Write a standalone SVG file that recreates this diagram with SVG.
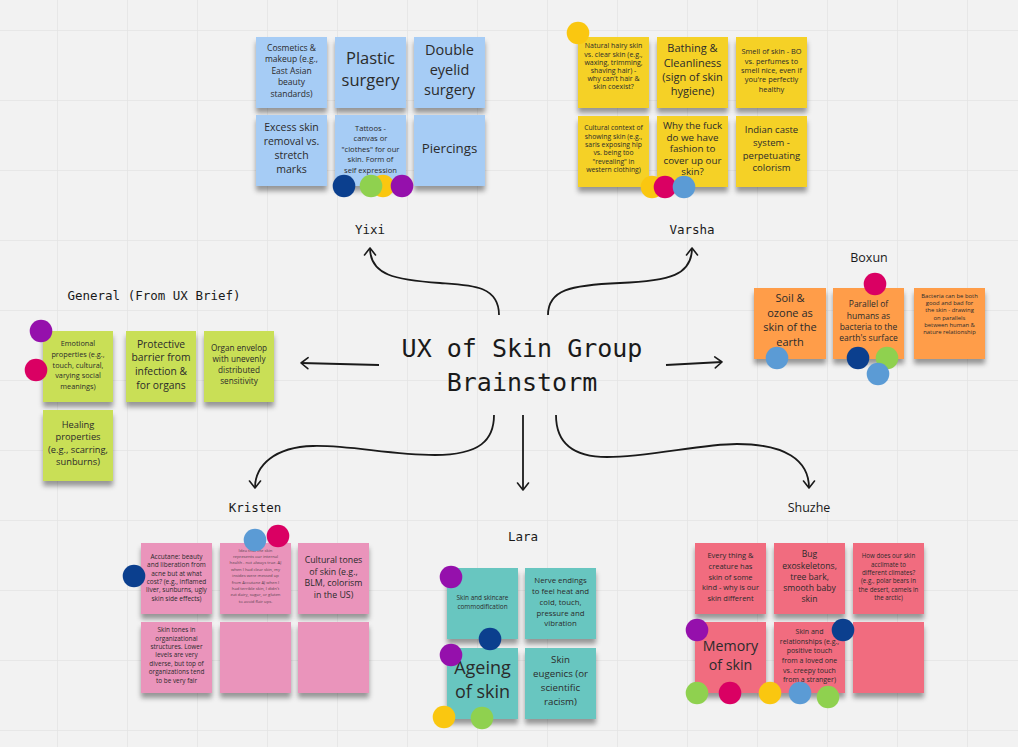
<svg xmlns="http://www.w3.org/2000/svg" width="1018" height="747" viewBox="0 0 1018 747">
<defs>
<pattern id="grid" x="57" y="30" width="70" height="70" patternUnits="userSpaceOnUse"><path d="M0,0 H70 M0,0 V70" fill="none" stroke="#e4e4e4" stroke-width="1.5"/></pattern>
<filter id="sh" x="-20%" y="-20%" width="140%" height="150%"><feDropShadow dx="0" dy="5" stdDeviation="2.5" flood-color="#000" flood-opacity="0.38"/></filter>
<marker id="arr" viewBox="-9 -7 11 14" refX="0" refY="0" markerWidth="11" markerHeight="14" markerUnits="userSpaceOnUse" orient="auto"><path d="M-7,-5.5 L0,0 L-7,5.5" fill="none" stroke="#1a1a1a" stroke-width="1.6" stroke-linecap="round" stroke-linejoin="round"/></marker>
</defs>
<style>
.note text{font-family:"Open Sans","Noto Sans",sans-serif;fill:#2b2b2b;text-anchor:middle}
.note rect{filter:url(#sh)}
.blue{fill:#a6ccf5}.yellow{fill:#f5d128}.orange{fill:#ff9d48}.lime{fill:#c9df56}.pink{fill:#ea94bb}.teal{fill:#67c6c0}.coral{fill:#f16c7f}
.lbl{font-family:"DejaVu Sans Mono","Liberation Mono",monospace;font-size:12.5px;fill:#1a1a1a;text-anchor:middle}
.lbls{font-family:"Open Sans","Noto Sans",sans-serif;font-size:12.5px;fill:#1a1a1a;text-anchor:middle}
.title{font-family:"DejaVu Sans Mono","Liberation Mono",monospace;font-size:25px;fill:#1a1a1a;text-anchor:middle}
.conn path{fill:none;stroke:#1a1a1a;stroke-width:1.8;marker-end:url(#arr)}
.pu{fill:#9510ac}.mg{fill:#da0063}.db{fill:#0b3f8e}.lb{fill:#5b9bd5}.gr{fill:#8fd14f}.ye{fill:#fac710}
</style>
<rect width="1018" height="747" fill="#f2f2f2"/>
<rect width="1018" height="747" fill="url(#grid)"/>

<g id="connectors" class="conn">
<path d="M499,315 C499,285 470,285 440,283 C395,280 370,275 370,248"/>
<path d="M548,315 C548,290 570,285 620,283 C670,281 692,275 692,248"/>
<path d="M379,365 L301,363"/>
<path d="M666,365 L722,362"/>
<path d="M494,415 C494,440 480,455 435,455 C390,455 350,445 313,446 C275,447 255,465 255,488"/>
<path d="M523,415 L523,490"/>
<path d="M556,415 C556,440 570,457 607,457 C650,457 700,444 737,444 C785,444 809,460 809,488"/>
</g>

<g id="title"><text class="title"><tspan x="522" y="357">UX of Skin Group</tspan><tspan x="522" y="391">Brainstorm</tspan></text></g>

<g id="labels">
<text class="lbl" x="370" y="234">Yixi</text>
<text class="lbl" x="692" y="234">Varsha</text>
<text class="lbls" x="869" y="262">Boxun</text>
<text class="lbl" x="154" y="300">General (From UX Brief)</text>
<text class="lbl" x="255" y="512">Kristen</text>
<text class="lbl" x="523" y="541">Lara</text>
<text class="lbls" x="809" y="512">Shuzhe</text>
</g>

<!-- Yixi -->
<g id="yixi-1" class="note"><rect class="blue" x="256" y="37" width="71" height="71"/><text font-size="8.5"><tspan x="291.5" y="50.5">Cosmetics &amp;</tspan><tspan x="291.5" y="62">makeup  (e.g.,</tspan><tspan x="291.5" y="73.5">East Asian</tspan><tspan x="291.5" y="85">beauty</tspan><tspan x="291.5" y="96.5">standards)</tspan></text></g>
<g id="yixi-2" class="note"><rect class="blue" x="335" y="37" width="71" height="71"/><text font-size="16.5"><tspan x="370.5" y="64">Plastic</tspan><tspan x="370.5" y="86">surgery</tspan></text></g>
<g id="yixi-3" class="note"><rect class="blue" x="414" y="37" width="71" height="71"/><text font-size="14.5"><tspan x="449.5" y="54.5">Double</tspan><tspan x="449.5" y="74.5">eyelid</tspan><tspan x="449.5" y="94.5">surgery</tspan></text></g>
<g id="yixi-4" class="note"><rect class="blue" x="256" y="115" width="71" height="71"/><text font-size="10.5"><tspan x="291.5" y="130.5">Excess skin</tspan><tspan x="291.5" y="144.8">removal vs.</tspan><tspan x="291.5" y="159.1">stretch</tspan><tspan x="291.5" y="173.4">marks</tspan></text></g>
<g id="yixi-5" class="note"><rect class="blue" x="335" y="115" width="71" height="71"/><text font-size="7.6"><tspan x="370.5" y="130.7">Tattoos  -</tspan><tspan x="370.5" y="141.2">canvas or</tspan><tspan x="370.5" y="151.7">"clothes" for our</tspan><tspan x="370.5" y="162.2">skin. Form of</tspan><tspan x="370.5" y="172.7">self expression</tspan></text></g>
<g id="yixi-6" class="note"><rect class="blue" x="414" y="115" width="71" height="71"/><text font-size="13.3"><tspan x="449.5" y="152.5">Piercings</tspan></text></g>
<g id="yixi-dots"><circle class="ye" cx="383" cy="186" r="11.3"/><circle class="pu" cx="402" cy="186" r="11.3"/><circle class="db" cx="344" cy="186" r="11.3"/><circle class="gr" cx="371" cy="186" r="11.3"/></g>

<!-- Varsha -->
<g id="varsha-1" class="note"><rect class="yellow" x="578" y="37" width="71" height="71"/><text font-size="7"><tspan x="613.5" y="48.4">Natural hairy skin</tspan><tspan x="613.5" y="56.5">vs. clear skin (e.g.,</tspan><tspan x="613.5" y="64.6">waxing, trimming,</tspan><tspan x="613.5" y="72.7">shaving hair) -</tspan><tspan x="613.5" y="80.8">why can't hair &amp;</tspan><tspan x="613.5" y="88.9">skin coexist?</tspan></text></g>
<g id="varsha-2" class="note"><rect class="yellow" x="657" y="37" width="71" height="71"/><text font-size="11"><tspan x="692.5" y="52.2">Bathing &amp;</tspan><tspan x="692.5" y="66.6">Cleanliness</tspan><tspan x="692.5" y="81">(sign of skin</tspan><tspan x="692.5" y="95.4">hygiene)</tspan></text></g>
<g id="varsha-3" class="note"><rect class="yellow" x="736" y="37" width="71" height="71"/><text font-size="7.4"><tspan x="771.5" y="54.3">Smell of skin - BO</tspan><tspan x="771.5" y="63.6">vs. perfumes to</tspan><tspan x="771.5" y="72.9">smell nice, even if</tspan><tspan x="771.5" y="82.2">you're perfectly</tspan><tspan x="771.5" y="91.5">healthy</tspan></text></g>
<g id="varsha-4" class="note"><rect class="yellow" x="578" y="116" width="71" height="71"/><text font-size="6.8"><tspan x="613.5" y="130.1">Cultural context of</tspan><tspan x="613.5" y="138.5">showing skin (e.g.,</tspan><tspan x="613.5" y="146.9">saris exposing hip</tspan><tspan x="613.5" y="155.3">vs. being too</tspan><tspan x="613.5" y="163.7">"revealing" in</tspan><tspan x="613.5" y="172.1">western clothing)</tspan></text></g>
<g id="varsha-5" class="note"><rect class="yellow" x="657" y="116" width="71" height="71"/><text font-size="9.8"><tspan x="692.5" y="129.4">Why the fuck</tspan><tspan x="692.5" y="140.8">do we have</tspan><tspan x="692.5" y="152.2">fashion to</tspan><tspan x="692.5" y="163.6">cover up our</tspan><tspan x="692.5" y="175">skin?</tspan></text></g>
<g id="varsha-6" class="note"><rect class="yellow" x="736" y="116" width="71" height="71"/><text font-size="9.5"><tspan x="771.5" y="133.3">Indian caste</tspan><tspan x="771.5" y="146">system -</tspan><tspan x="771.5" y="158.5">perpetuating</tspan><tspan x="771.5" y="171">colorism</tspan></text></g>
<g id="varsha-dots"><circle class="ye" cx="578" cy="33" r="11.3"/><circle class="ye" cx="652" cy="187" r="11.3"/><circle class="mg" cx="665" cy="187" r="11.3"/><circle class="lb" cx="684" cy="187" r="11.3"/></g>

<!-- Boxun -->
<g id="boxun-1" class="note"><rect class="orange" x="754" y="288" width="72" height="71"/><text font-size="11"><tspan x="790" y="302">Soil &amp;</tspan><tspan x="790" y="316.5">ozone as</tspan><tspan x="790" y="331">skin of the</tspan><tspan x="790" y="345.5">earth</tspan></text></g>
<g id="boxun-2" class="note"><rect class="orange" x="833" y="288" width="71" height="71"/><text font-size="8.5"><tspan x="868.5" y="307.3">Parallel of</tspan><tspan x="868.5" y="318.6">humans as</tspan><tspan x="868.5" y="329.9">bacteria to the</tspan><tspan x="868.5" y="341.2">earth's surface</tspan></text></g>
<g id="boxun-3" class="note"><rect class="orange" x="914" y="288" width="71" height="71"/><text font-size="5.9"><tspan x="949.5" y="298">Bacteria can be both</tspan><tspan x="949.5" y="305.2">good and bad for</tspan><tspan x="949.5" y="312.4">the skin - drawing</tspan><tspan x="949.5" y="319.6">on parallels</tspan><tspan x="949.5" y="326.8">between human &amp;</tspan><tspan x="949.5" y="334">nature relationship</tspan></text></g>
<g id="boxun-dots"><circle class="mg" cx="875" cy="284" r="11.3"/><circle class="lb" cx="777" cy="358" r="11.3"/><circle class="db" cx="858" cy="358" r="11.3"/><circle class="gr" cx="887" cy="358" r="11.3"/><circle class="lb" cx="878" cy="374" r="11.3"/></g>

<!-- General -->
<g id="general-1" class="note"><rect class="lime" x="43" y="331" width="70" height="71"/><text font-size="7.3"><tspan x="78" y="346">Emotional</tspan><tspan x="78" y="356.8">properties (e.g.,</tspan><tspan x="78" y="367.6">touch, cultural,</tspan><tspan x="78" y="378.4">varying social</tspan><tspan x="78" y="389.2">meanings)</tspan></text></g>
<g id="general-2" class="note"><rect class="lime" x="126" y="331" width="70" height="71"/><text font-size="10.3"><tspan x="161" y="347.6">Protective</tspan><tspan x="161" y="361.3">barrier from</tspan><tspan x="161" y="375">infection &amp;</tspan><tspan x="161" y="388.7">for organs</tspan></text></g>
<g id="general-3" class="note"><rect class="lime" x="204" y="331" width="70" height="71"/><text font-size="8.2"><tspan x="239" y="350.5">Organ envelop</tspan><tspan x="239" y="361.5">with unevenly</tspan><tspan x="239" y="372.5">distributed</tspan><tspan x="239" y="383.5">sensitivity</tspan></text></g>
<g id="general-4" class="note"><rect class="lime" x="43" y="410" width="70" height="71"/><text font-size="9.3"><tspan x="78" y="428.2">Healing</tspan><tspan x="78" y="440.4">properties</tspan><tspan x="78" y="452.6">(e.g., scarring,</tspan><tspan x="78" y="464.8">sunburns)</tspan></text></g>
<g id="general-dots"><circle class="pu" cx="41" cy="331" r="11.3"/><circle class="mg" cx="36" cy="370" r="11.3"/></g>

<!-- Kristen -->
<g id="kristen-1" class="note"><rect class="pink" x="141" y="543" width="71" height="71"/><text font-size="6.5"><tspan x="176.5" y="559">Accutane: beauty</tspan><tspan x="176.5" y="567.3">and liberation from</tspan><tspan x="176.5" y="575.6">acne but at what</tspan><tspan x="176.5" y="583.9">cost? (e.g., inflamed</tspan><tspan x="176.5" y="592.2">liver, sunburns, ugly</tspan><tspan x="176.5" y="600.5">skin side effects)</tspan></text></g>
<g id="kristen-2" class="note"><rect class="pink" x="220" y="543" width="71" height="71"/><text font-size="4.2" style="fill:#5a4450"><tspan x="255.5" y="551.5">Idea that the skin</tspan><tspan x="255.5" y="557.9">represents our internal</tspan><tspan x="255.5" y="564.3">health - not always true. AJ</tspan><tspan x="255.5" y="570.7">when I had clear skin, my</tspan><tspan x="255.5" y="577.1">insides were messed up</tspan><tspan x="255.5" y="583.5">from Accutane AJ when I</tspan><tspan x="255.5" y="589.9">had terrible skin, I didn't</tspan><tspan x="255.5" y="596.3">eat dairy, sugar, or gluten</tspan><tspan x="255.5" y="602.7">to avoid flair ups.</tspan></text></g>
<g id="kristen-3" class="note"><rect class="pink" x="298" y="543" width="71" height="71"/><text font-size="8.8"><tspan x="333.5" y="563">Cultural tones</tspan><tspan x="333.5" y="574.5">of skin (e.g.,</tspan><tspan x="333.5" y="586">BLM, colorism</tspan><tspan x="333.5" y="597.5">in the US)</tspan></text></g>
<g id="kristen-4" class="note"><rect class="pink" x="141" y="622" width="71" height="71"/><text font-size="6.4"><tspan x="176.5" y="632.2">Skin tones in</tspan><tspan x="176.5" y="640.6">organizational</tspan><tspan x="176.5" y="649">structures. Lower</tspan><tspan x="176.5" y="657.4">levels are very</tspan><tspan x="176.5" y="665.8">diverse, but top of</tspan><tspan x="176.5" y="674.2">organizations tend</tspan><tspan x="176.5" y="682.6">to be very fair</tspan></text></g>
<g id="kristen-5" class="note"><rect class="pink" x="220" y="622" width="71" height="71"/></g>
<g id="kristen-6" class="note"><rect class="pink" x="298" y="622" width="71" height="71"/></g>
<g id="kristen-dots"><circle class="db" cx="134" cy="576" r="11.3"/><circle class="lb" cx="255" cy="540" r="11.3"/><circle class="mg" cx="278" cy="536" r="11.3"/></g>

<!-- Lara -->
<g id="lara-1" class="note"><rect class="teal" x="447" y="568" width="71" height="71"/><text font-size="6.4"><tspan x="482.5" y="599.5">Skin and skincare</tspan><tspan x="482.5" y="608.9">commodification</tspan></text></g>
<g id="lara-2" class="note"><rect class="teal" x="525" y="568" width="71" height="71"/><text font-size="7.8"><tspan x="560.5" y="583.4">Nerve endings</tspan><tspan x="560.5" y="594.1">to feel heat and</tspan><tspan x="560.5" y="604.8">cold, touch,</tspan><tspan x="560.5" y="615.5">pressure and</tspan><tspan x="560.5" y="626.2">vibration</tspan></text></g>
<g id="lara-3" class="note"><rect class="teal" x="447" y="648" width="71" height="71"/><text font-size="18"><tspan x="482.5" y="674">Ageing</tspan><tspan x="482.5" y="698">of skin</tspan></text></g>
<g id="lara-4" class="note"><rect class="teal" x="525" y="648" width="71" height="71"/><text font-size="9.7"><tspan x="560.5" y="663.4">Skin</tspan><tspan x="560.5" y="677.1">eugenics (or</tspan><tspan x="560.5" y="690.8">scientific</tspan><tspan x="560.5" y="704.5">racism)</tspan></text></g>
<g id="lara-dots"><circle class="pu" cx="451" cy="577" r="11.3"/><circle class="db" cx="490" cy="639" r="11.3"/><circle class="pu" cx="451" cy="655" r="11.3"/><circle class="ye" cx="444" cy="717" r="11.3"/><circle class="gr" cx="482" cy="718" r="11.3"/></g>

<!-- Shuzhe -->
<g id="shuzhe-1" class="note"><rect class="coral" x="695" y="543" width="71" height="71"/><text font-size="7.5"><tspan x="730.5" y="558.3">Every thing &amp;</tspan><tspan x="730.5" y="568.9">creature has</tspan><tspan x="730.5" y="579.5">skin of some</tspan><tspan x="730.5" y="590.1">kind - why is our</tspan><tspan x="730.5" y="600.7">skin different</tspan></text></g>
<g id="shuzhe-2" class="note"><rect class="coral" x="774" y="543" width="71" height="71"/><text font-size="8.6"><tspan x="809.5" y="557.3">Bug</tspan><tspan x="809.5" y="568.5">exoskeletons,</tspan><tspan x="809.5" y="579.7">tree bark,</tspan><tspan x="809.5" y="590.9">smooth baby</tspan><tspan x="809.5" y="602.1">skin</tspan></text></g>
<g id="shuzhe-3" class="note"><rect class="coral" x="853" y="543" width="71" height="71"/><text font-size="6.2"><tspan x="888.5" y="558.2">How does our skin</tspan><tspan x="888.5" y="566.6">acclimate to</tspan><tspan x="888.5" y="575">different climates?</tspan><tspan x="888.5" y="583.4">(e.g., polar bears in</tspan><tspan x="888.5" y="591.8">the desert, camels in</tspan><tspan x="888.5" y="600.2">the arctic)</tspan></text></g>
<g id="shuzhe-4" class="note"><rect class="coral" x="695" y="622" width="71" height="71"/><text font-size="14.2"><tspan x="730.5" y="651">Memory</tspan><tspan x="730.5" y="669.5">of skin</tspan></text></g>
<g id="shuzhe-5" class="note"><rect class="coral" x="774" y="622" width="71" height="71"/><text font-size="7"><tspan x="809.5" y="634.2">Skin and</tspan><tspan x="809.5" y="643.8">relationships (e.g.,</tspan><tspan x="809.5" y="653.4">positive touch</tspan><tspan x="809.5" y="663">from a loved one</tspan><tspan x="809.5" y="672.6">vs. creepy touch</tspan><tspan x="809.5" y="682.2">from a stranger)</tspan></text></g>
<g id="shuzhe-6" class="note"><rect class="coral" x="853" y="622" width="71" height="71"/></g>
<g id="shuzhe-dots"><circle class="pu" cx="697" cy="630" r="11.3"/><circle class="db" cx="843" cy="630" r="11.3"/><circle class="gr" cx="697" cy="693" r="11.3"/><circle class="mg" cx="730" cy="693" r="11.3"/><circle class="ye" cx="770" cy="693" r="11.3"/><circle class="lb" cx="800" cy="693" r="11.3"/><circle class="gr" cx="828" cy="697" r="11.3"/></g>
</svg>
